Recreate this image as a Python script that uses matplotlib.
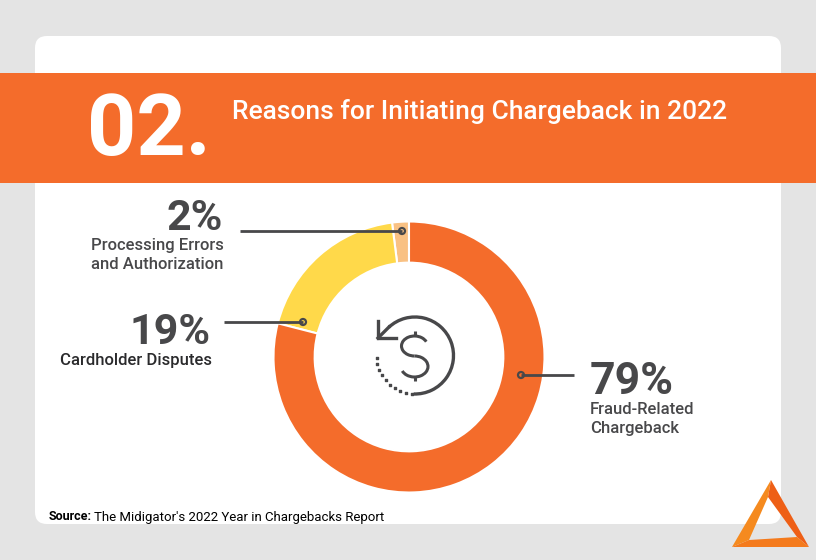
import matplotlib
matplotlib.use('Agg')
from matplotlib import pyplot as plt
from matplotlib.patches import FancyBboxPatch, Rectangle, Polygon, Arc, Circle
import numpy as np

plt.rcParams['font.family'] = ['Roboto', 'DejaVu Sans']

# data, in drawing order from the top going counter-clockwise
labels = ['Processing Errors\nand Authorization', 'Cardholder Disputes', 'Fraud-Related\nChargeback']
values = [2, 19, 79]
pct_labels = ['2%', '19%', '79%']
colors = ['#F9C183', '#FFD94A', '#F46C2B']
title = 'Reasons for Initiating Chargeback in 2022'
number = '02.'

W, H = 816, 560
DARK = '#48484A'
ORANGE = '#F46C2B'

fig = plt.figure(figsize=(W / 100, H / 100), dpi=100, facecolor='#E4E4E4')

# everything except the donut is placed in pixels
bg = fig.add_axes([0, 0, 1, 1])
bg.set_xlim(0, W)
bg.set_ylim(H, 0)
bg.axis('off')

bg.add_patch(FancyBboxPatch((47, 48), 722, 464, boxstyle='round,pad=12,rounding_size=12',
                            fc='white', ec='none', zorder=1))
bg.add_patch(Rectangle((0, 73), W, 110, fc=ORANGE, ec='none', zorder=2))

bg.text(87, 132, number, color='white', fontsize=62, fontweight='bold', va='center', ha='left', zorder=3)
bg.text(232, 111, title, color='white', fontsize=19, fontweight='medium', va='center', ha='left', zorder=3)

# donut
cx, cy, r = 409, 357, 135.5
ax = fig.add_axes([(cx - r) / W, 1 - (cy + r) / H, 2 * r / W, 2 * r / H])
ax.pie(values, colors=colors, startangle=90, counterclock=True, radius=1,
       wedgeprops=dict(width=41 / 135, edgecolor='white', linewidth=1.5))
ax.set_xlim(-1, 1)
ax.set_ylim(-1, 1)
ax.set_aspect('equal')
ax.patch.set_alpha(0)

# overlay for leaders, labels and icons
top = fig.add_axes([0, 0, 1, 1])
top.set_xlim(0, W)
top.set_ylim(H, 0)
top.axis('off')
top.patch.set_alpha(0)

# leader lines with small ring at the end
leaders = [((240, 231), (402, 231)), ((224, 322), (303, 322)), ((574, 375), (521, 375))]
for (x0, y0), (x1, y1) in leaders:
    top.plot([x0, x1], [y0, y1], color=DARK, lw=2, solid_capstyle='butt', zorder=5)
    top.add_patch(Circle((x1, y1), 3, fc='none', ec=DARK, lw=1.6, zorder=6))

# percentages and captions
top.text(223, 219, pct_labels[0], color=DARK, fontsize=31, fontweight='bold', ha='right', va='center')
top.text(224, 255, labels[0], color=DARK, fontsize=12, fontweight='medium', ha='right', va='center',
         multialignment='left', linespacing=1.3)
top.text(211, 332, pct_labels[1], color=DARK, fontsize=31, fontweight='bold', ha='right', va='center')
top.text(212, 361, labels[1], color='#2A2A2C', fontsize=12, fontweight='medium', ha='right', va='center')
top.text(590, 382, pct_labels[2], color=DARK, fontsize=32, fontweight='bold', ha='left', va='center')
top.text(590, 419, labels[2], color=DARK, fontsize=12, fontweight='medium', ha='left', va='center',
         linespacing=1.3)

# source line
top.text(49, 517, 'Source:', color='black', fontsize=9, fontweight='bold', ha='left', va='center')
top.text(94, 517, "The Midigator's 2022 Year in Chargebacks Report", color='black', fontsize=9.5,
         ha='left', va='center')

# refund icon: solid arc, dotted arc, arrow head and dollar sign
ic_x, ic_y, ic_r = 415, 355.5, 38.5
top.add_patch(Arc((ic_x, ic_y), 2 * ic_r, 2 * ic_r, theta1=227, theta2=92, color=DARK, lw=2.4, zorder=5))
dot_t = np.radians(np.arange(95, 181, 9))
top.scatter(ic_x + ic_r * np.cos(dot_t), ic_y + ic_r * np.sin(dot_t), s=4, marker='s', color=DARK, zorder=5)
top.plot([378, 378, 396], [321, 338, 338], color=DARK, lw=2.4, solid_joinstyle='miter', zorder=5)
top.plot([378, 389], [338, 327], color=DARK, lw=2.4, zorder=5)
top.add_patch(Arc((414.5, 346), 26, 20, theta1=90, theta2=340, color=DARK, lw=2.2, zorder=5))
top.add_patch(Arc((414.5, 366.5), 27, 21, theta1=270, theta2=160, color=DARK, lw=2.2, zorder=5))
top.plot([414.5, 414.5], [331, 336], color=DARK, lw=2.2, solid_capstyle='butt', zorder=5)
top.plot([414.5, 414.5], [377, 381], color=DARK, lw=2.2, solid_capstyle='butt', zorder=5)

# logo triangle
outer_top, outer_l, outer_r = (771, 480), (732, 547), (809, 547)
inner_top, inner_l, inner_r = (768, 497), (749, 540), (797, 537)
top.add_patch(Polygon([outer_top, outer_l, inner_l, inner_top], fc='#F58A1F', ec='none', zorder=7))
top.add_patch(Polygon([outer_top, outer_r, inner_r, inner_top], fc='#EE5F16', ec='none', zorder=7))
top.add_patch(Polygon([outer_l, outer_r, inner_r, inner_l], fc='#F47A1C', ec='none', zorder=7))

fig.savefig('out.png', dpi=100, facecolor=fig.get_facecolor())
